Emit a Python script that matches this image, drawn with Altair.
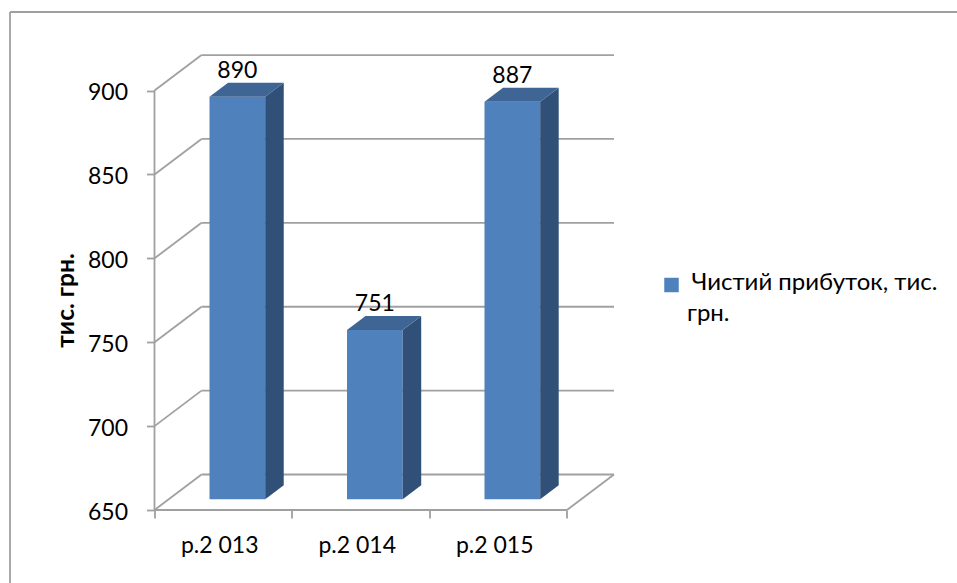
import altair as alt
import pandas as pd

# Chart values
categories = ["р.2 013", "р.2 014", "р.2 015"]
profit = [890, 751, 887]
y_ticks = [650, 700, 750, 800, 850, 900]
x_ticks = [0, 1, 2, 3]
series_name = ["Чистий прибуток, тис.", "грн."]
axis_title = "тис. грн."

FONT = "Lato"
TEXT = "#000000"
GRID = "#A0A0A0"
FRONT = "#4F81BD"
TOP = "#3E6594"
SIDE = "#305078"

# Oblique projection: a full step of depth moves right and up by this much
DEPTH_X = 0.342
DEPTH_Y = 21.16
BASE = 650
BAR_W = 0.405
BAR_NEAR = 0.30   # depth of the bar's front face
BAR_DEEP = 0.394  # depth extent of the bar

x_scale = alt.Scale(domain=[0, 3 + DEPTH_X], nice=False, zero=False)
y_scale = alt.Scale(domain=[BASE, 921.2], nice=False, zero=False)
x_axis = alt.Axis(
    values=x_ticks, labels=False, domain=False, grid=False,
    tickColor=GRID, tickWidth=1.8, tickSize=8)
y_axis = alt.Axis(
    values=y_ticks, domain=False, grid=False, tickColor=GRID, tickWidth=1.8,
    tickSize=8, labelFont=FONT, labelFontSize=23, labelColor=TEXT, labelPadding=19,
    labelOffset=2,
    titleFont=FONT, titleFontSize=24.5, titleFontWeight="bold", titleColor=TEXT,
    titleX=-76, titleY=245)
X = alt.X("x:Q", scale=x_scale, axis=x_axis, title=None, stack=None)
Y = alt.Y("y:Q", scale=y_scale, axis=y_axis, title=axis_title, stack=None)

# Wall and floor lines
wall = []
for v in y_ticks:
    wall.append({"x": 0, "y": v, "x2": DEPTH_X, "y2": v + DEPTH_Y})
    wall.append({"x": DEPTH_X, "y": v + DEPTH_Y, "x2": 3 + DEPTH_X, "y2": v + DEPTH_Y})
wall.append({"x": 0, "y": BASE, "x2": 3, "y2": BASE})
wall.append({"x": 3, "y": BASE, "x2": 3 + DEPTH_X, "y2": BASE + DEPTH_Y})
wall.append({"x": 0, "y": BASE, "x2": 0, "y2": 900})
walls = alt.Chart(pd.DataFrame(wall)).mark_rule(color=GRID, strokeWidth=1.8).encode(
    x=X, y=Y, x2="x2:Q", y2="y2:Q")

# Bars as three faces each
front, side, top, labels = [], [], [], []
for i, (cat, v) in enumerate(zip(categories, profit)):
    x0 = i + 0.5 - BAR_W / 2 + BAR_NEAR * DEPTH_X
    x1 = x0 + BAR_W
    y0 = BASE + BAR_NEAR * DEPTH_Y
    yv = v + BAR_NEAR * DEPTH_Y
    dx = BAR_DEEP * DEPTH_X
    dy = BAR_DEEP * DEPTH_Y
    front.append({"x": x0, "x2": x1, "y": y0, "y2": yv, "cat": cat})
    side += [{"x": x1, "y": y0, "y2": yv, "cat": cat},
             {"x": x1 + dx, "y": y0 + dy, "y2": yv + dy, "cat": cat}]
    top += [{"y": yv, "x": x0, "x2": x1, "cat": cat},
            {"y": yv + dy, "x": x0 + dx, "x2": x1 + dx, "cat": cat}]
    labels.append({"x": (x0 + x1) / 2, "y": yv + dy, "t": str(v)})

front_layer = alt.Chart(pd.DataFrame(front)).mark_rect(color=FRONT).encode(
    x=X, x2="x2:Q", y=Y, y2="y2:Q")
side_layer = alt.Chart(pd.DataFrame(side)).mark_area(color=SIDE, orient="vertical").encode(
    x=X, y=Y, y2="y2:Q", detail="cat:N")
top_layer = alt.Chart(pd.DataFrame(top)).mark_area(color=TOP, orient="horizontal").encode(
    y=Y, x=X, x2="x2:Q", detail="cat:N")

value_labels = alt.Chart(pd.DataFrame(labels)).mark_text(
    font=FONT, fontSize=23, color=TEXT, baseline="middle", dy=-12).encode(x=X, y=Y, text="t:N")

cat_labels = alt.Chart(pd.DataFrame({
    "x": [i + 0.5 for i in range(len(categories))],
    "y": [BASE] * len(categories),
    "t": categories,
})).mark_text(font=FONT, fontSize=23, color=TEXT, baseline="middle", dx=-3.5, dy=36).encode(
    x=X, y=Y, text="t:N")

# Legend: swatch and a wrapped label, placed to the right of the plot
legend_swatch = alt.Chart(pd.DataFrame({"n": [0]})).mark_square(
    color=FRONT, size=210, opacity=1, filled=True).encode(
    x=alt.value(517), y=alt.value(230))
legend_line = alt.Chart(pd.DataFrame({"t": series_name})).transform_window(row="row_number()")
legend_first = legend_line.transform_filter("datum.row == 1").mark_text(
    font=FONT, fontSize=24, color=TEXT, align="left", baseline="top").encode(
    x=alt.value(537), y=alt.value(216), text="t:N")
legend_second = legend_line.transform_filter("datum.row == 2").mark_text(
    font=FONT, fontSize=24, color=TEXT, align="left", baseline="top").encode(
    x=alt.value(532.5), y=alt.value(247), text="t:N")

# Outer chart frame
frame = alt.Chart(pd.DataFrame({"n": [0]})).mark_rule(color=GRID, strokeWidth=1.8)
frame_top = frame.encode(x=alt.value(-144.5), x2=alt.value(802.5), y=alt.value(-43), y2=alt.value(-43))
frame_left = frame.encode(x=alt.value(-144.5), x2=alt.value(-144.5), y=alt.value(-43), y2=alt.value(528))

chart = alt.layer(
    frame_top, frame_left, walls, front_layer, side_layer, top_layer,
    value_labels, cat_labels, legend_swatch, legend_first, legend_second,
).properties(
    width=459.5, height=455,
    padding={"left": 154.5, "top": 55, "right": 343, "bottom": 73},
    autosize=alt.AutoSizeParams(type="none"),
    background="#FFFFFF",
).configure_view(stroke=None)

chart.save("out.html", embed_options={"renderer": "svg", "actions": False})
